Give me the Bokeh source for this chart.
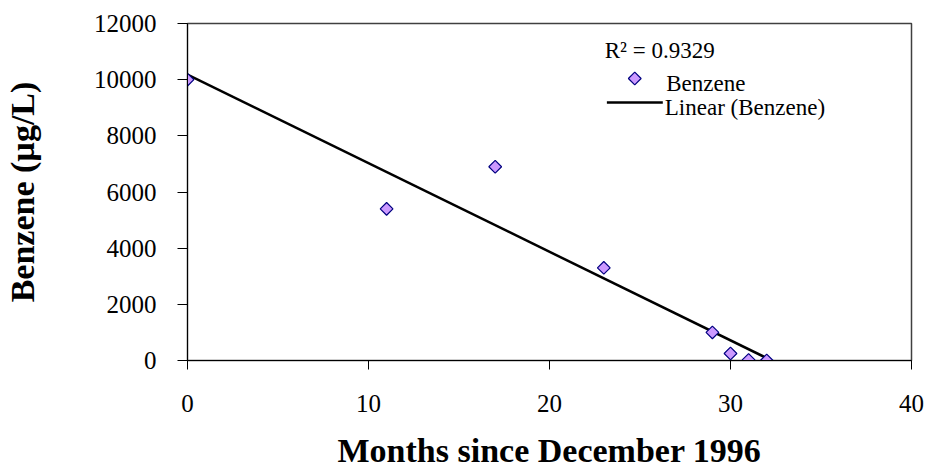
import numpy as np
from bokeh.plotting import figure
from bokeh.models import Range1d, FixedTicker, Label
from bokeh.embed import file_html
from bokeh.resources import INLINE

# Benzene measurements
months = [0, 11, 17, 23, 29, 30, 31, 32]
benzene = [10000, 5400, 6900, 3300, 1000, 250, 20, 0]
r_squared = 0.9329

x_ticks = [0, 10, 20, 30, 40]
y_ticks = [0, 2000, 4000, 6000, 8000, 10000, 12000]

# Linear trend line (least squares, like Excel's trendline)
slope, intercept = np.polyfit(months, benzene, 1)
fit_x = [min(months), max(months)]
fit_y = [intercept + slope * v for v in fit_x]

FONT = "Liberation Serif"

p = figure(width=926, height=471, output_backend="svg", toolbar_location=None,
           x_range=Range1d(0, 40), y_range=Range1d(0, 12000),
           min_border_left=186, min_border_right=15, min_border_top=23, min_border_bottom=111)

p.xgrid.visible = False
p.ygrid.visible = False
p.outline_line_color = "#404040"
p.outline_line_width = 1.5

p.line(fit_x, fit_y, line_color="black", line_width=2.5)
p.scatter(months, benzene, marker="square", angle=np.pi / 4, size=9,
          fill_color="#CC99FF", line_color="#000080", line_width=1.2)

for ax in (p.xaxis, p.yaxis):
    ax.axis_line_color = "black"
    ax.major_tick_line_color = "black"
    ax.minor_tick_line_color = None
    ax.major_tick_in = 0
    ax.major_label_text_font = FONT
    ax.major_label_text_font_size = "25px"
    ax.major_label_text_color = "black"
    ax.axis_label_text_font = FONT
    ax.axis_label_text_font_size = "34px"
    ax.axis_label_text_font_style = "bold"
    ax.axis_label_text_color = "black"

p.xaxis.ticker = FixedTicker(ticks=x_ticks)
p.yaxis.ticker = FixedTicker(ticks=y_ticks)
p.xaxis.major_tick_out = 9
p.yaxis.major_tick_out = 10
p.xaxis.major_label_standoff = 25
p.yaxis.major_label_standoff = 21
p.xaxis.axis_label = "Months since December 1996"
p.yaxis.axis_label = "Benzene (µg/L)"
p.xaxis.axis_label_standoff = 17
p.yaxis.axis_label_standoff = 50

# legend, drawn by hand so the key diamond keeps its rotation
LEG = dict(text_font=FONT, text_font_size="23px", text_color="black", text_baseline="alphabetic")
p.add_layout(Label(x=23.05, y=11040, text="R² = %.4f" % r_squared, **LEG))
p.scatter([24.71], [10043], marker="square", angle=np.pi / 4, size=9,
          fill_color="#CC99FF", line_color="#000080", line_width=1.2)
p.add_layout(Label(x=26.45, y=9865, text="Benzene", **LEG))
p.line([23.17, 26.26], [9188, 9188], line_color="black", line_width=2.5)
p.add_layout(Label(x=26.37, y=9010, text="Linear (Benzene)", **LEG))

open("out.html", "w").write(file_html(p, INLINE))
